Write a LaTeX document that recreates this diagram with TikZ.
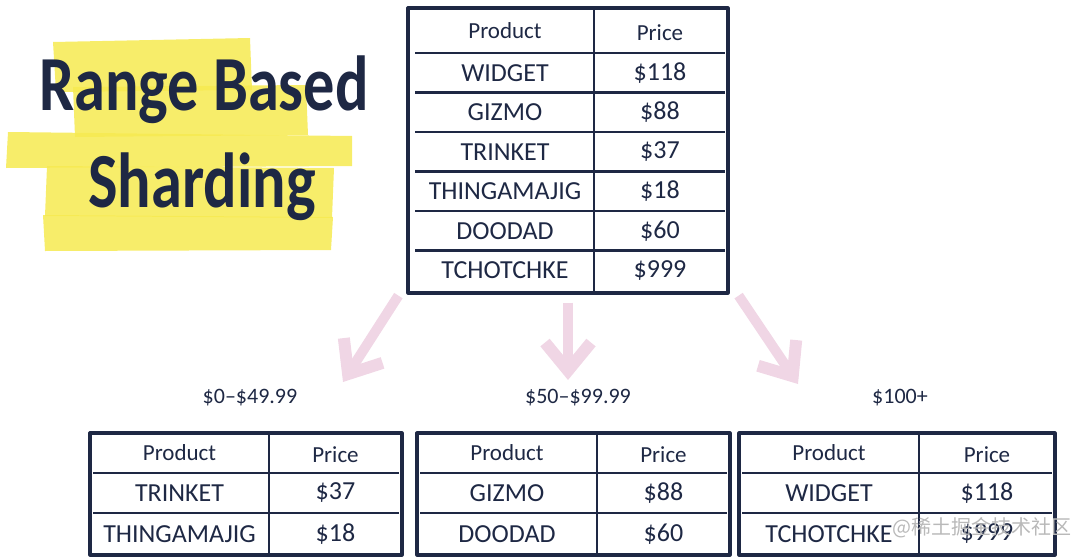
\documentclass[tikz,border=0pt]{standalone}
\usepackage{fontspec}
\setmainfont{Carlito}
\newfontfamily\titlefont[FakeStretch=0.8]{Carlito Bold}
\newfontfamily\cjk{Noto Sans CJK SC}
\usetikzlibrary{arrows.meta,positioning}
\definecolor{ink}{RGB}{30,40,68}
\definecolor{marker}{RGB}{246,234,80}
\definecolor{shardpink}{RGB}{240,214,229}

\begin{document}
\begin{tikzpicture}[x=1pt,y=-1pt,
    frame/.style={draw=ink,line width=3.2pt,line join=round},
    rule/.style={draw=ink,line width=2.3pt},
    cell/.style={text=ink,font=\fontsize{26}{30}\selectfont,inner sep=0pt},
    head/.style={text=ink,font=\fontsize{23}{27}\selectfont,inner sep=0pt},
    rangelabel/.style={text=ink,font=\fontsize{22}{26}\selectfont,inner sep=0pt},
    title/.style={text=ink,font=\fontsize{78}{80}\titlefont,inner sep=0pt},
    shard/.style={draw=shardpink,line width=10pt,-{Straight Barb[length=28pt,width=46pt,line width=12pt]}},
    hl/.style={fill=marker,opacity=0.85}]

  \useasboundingbox (0,0) rectangle (1080,557);

  % highlighter behind the title
  \fill[hl] (53,42) -- (250,38) -- (252,90) -- (56,92) -- cycle;
  \fill[hl] (73,87) -- (306,85) -- (308,135) -- (75,137) -- cycle;
  \fill[hl] (8,132) -- (352,136) -- (352,166) -- (6,168) -- cycle;
  \fill[hl] (47,166) -- (334,168) -- (332,218) -- (45,216) -- cycle;
  \fill[hl] (43,215) -- (333,217) -- (331,250) -- (45,251) -- cycle;
  \node[title] (title1) at (204,90) {Range Based};
  \node[title] (title2) at (202,187) {Sharding};

  % full table
  \node[frame,minimum width=320pt,minimum height=285pt] (main) at (568,150.5) {};
  \draw[rule] (594,10) -- (594,291);
  \node[head] (main-h1) at (505,31) {Product};
  \node[head] (main-h2) at (660,33) {Price};
  \foreach \name/\price [count=\i] in {WIDGET/118,GIZMO/88,TRINKET/37,THINGAMAJIG/18,DOODAD/60,TCHOTCHKE/999} {
    \draw[rule] (415,13.5+39.5*\i) -- (725,13.5+39.5*\i);
    \node[cell] (main-p\i) at (505,33.5+39.5*\i) {\name};
    \node[cell] (main-c\i) at (660,33.5+39.5*\i) {\$\price};
  }

  % shards
  \foreach \tab/\l/\m/\r/\pa/\ca/\pb/\cb in {lo/90/269/402/TRINKET/37/THINGAMAJIG/18,
      mid/417/597/730/GIZMO/88/DOODAD/60,
      hi/739/919/1055/WIDGET/118/TCHOTCHKE/999} {
    \draw[frame] (\l,433) rectangle (\r,555);
    \draw[rule] (\m,435) -- (\m,553);
    \draw[rule] (\l+3,473) -- (\r-3,473);
    \draw[rule] (\l+3,513) -- (\r-3,513);
    \node[head] (\tab-h1) at ({(\l+\m)/2},453) {Product};
    \node[head] (\tab-h2) at ({(\m+\r)/2},455) {Price};
    \node[cell] (\tab-p1) at ({(\l+\m)/2},493) {\pa};
    \node[cell] (\tab-c1) at ({(\m+\r)/2},493) {\$\ca};
    \node[cell] (\tab-p2) at ({(\l+\m)/2},534) {\pb};
    \node[cell] (\tab-c2) at ({(\m+\r)/2},534) {\$\cb};
  }

  % range labels
  \node[rangelabel] (range-lo) at (250,398) {\$0–\$49.99};
  \node[rangelabel] (range-mid) at (578,398) {\$50–\$99.99};
  \node[rangelabel] (range-hi) at (900,398) {\$100+};

  % arrows
  \coordinate (lo-tip) at (343,382);
  \coordinate (mid-tip) at (568,380);
  \coordinate (hi-tip) at (798,384);
  \draw[shard] ([xshift=-8pt,yshift=-1pt]main.south west) -- (lo-tip);
  \draw[shard] ([yshift=-8pt]main.south) -- (mid-tip);
  \draw[shard] ([xshift=9pt,yshift=-1pt]main.south east) -- (hi-tip);

  % watermark
  \node[text=gray!55,font=\fontsize{20}{22}\cjk,inner sep=0pt] (mark) at (982,528) {@稀土掘金技术社区};
\end{tikzpicture}
\end{document}
